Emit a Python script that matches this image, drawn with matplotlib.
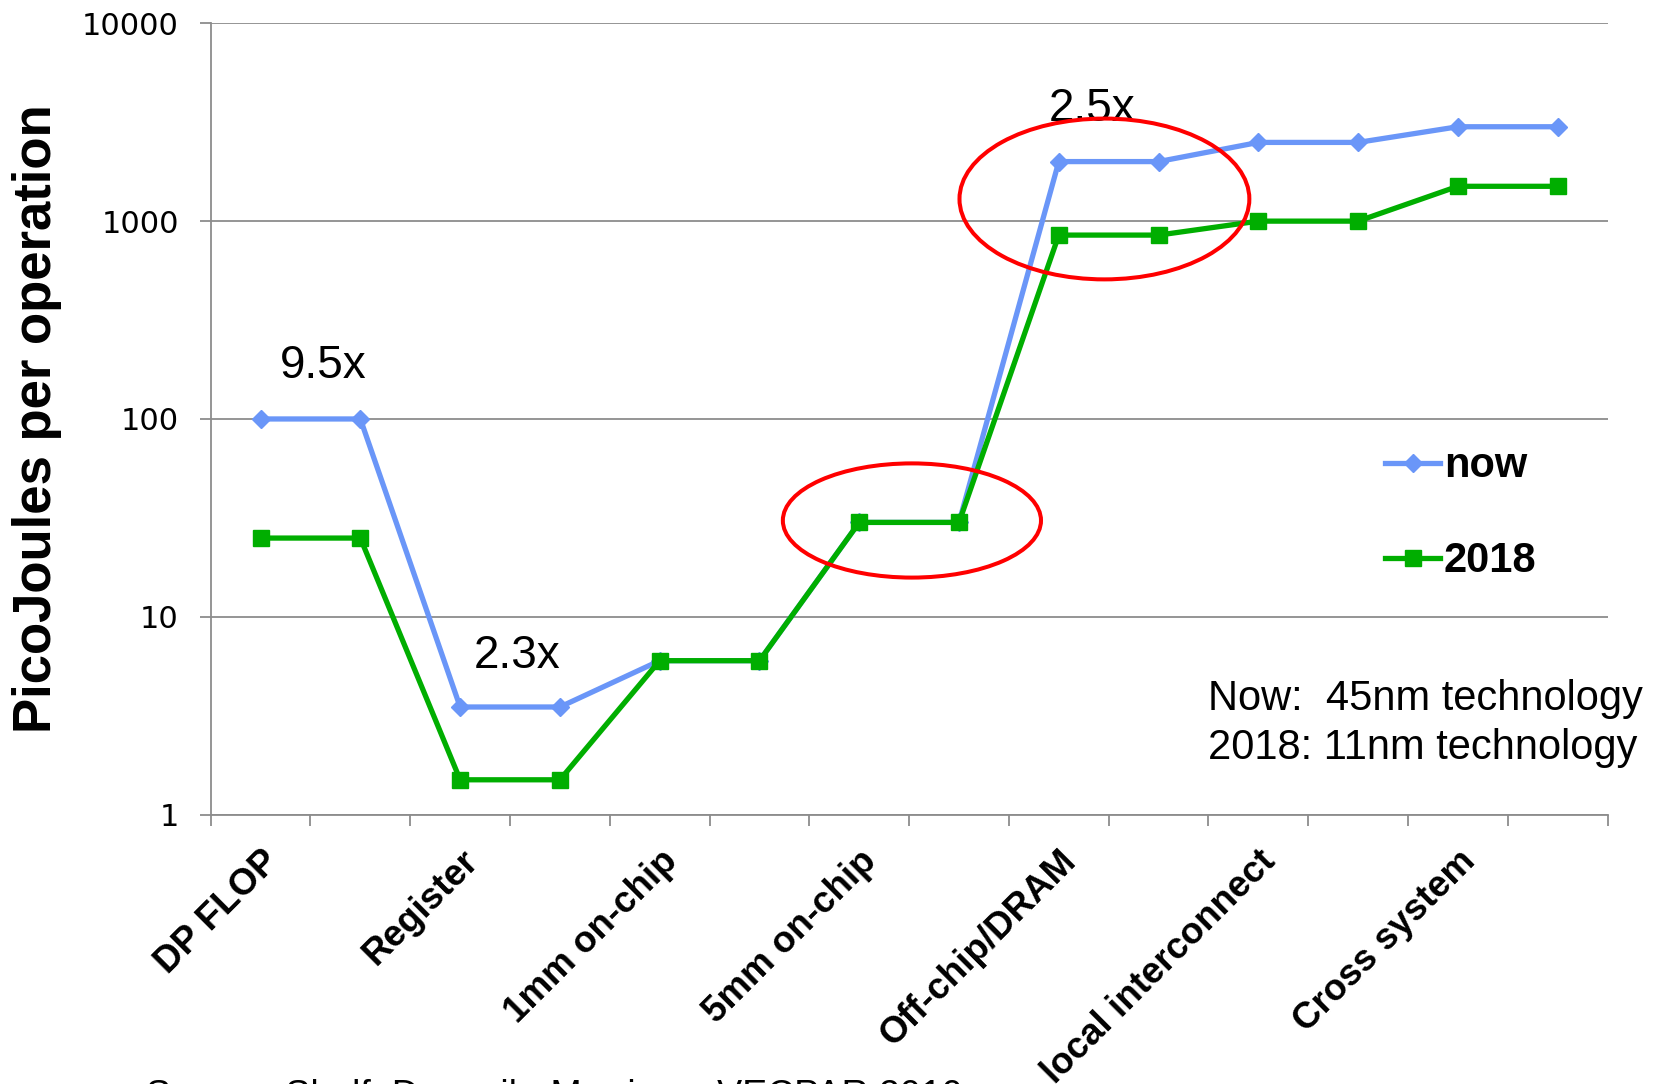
import numpy as np
import matplotlib
matplotlib.use("Agg")
import matplotlib.pyplot as plt
from matplotlib.patches import Ellipse

plt.rcParams['font.family'] = ['Liberation Sans', 'DejaVu Sans']

# data: two points per category
categories = ['DP FLOP', 'Register', '1mm on-chip', '5mm on-chip',
              'Off-chip/DRAM', 'local interconnect', 'Cross system']
now_pj = [100, 100, 3.5, 3.5, 6, 6, 30, 30, 2000, 2000, 2500, 2500, 3000, 3000]
y2018_pj = [25, 25, 1.5, 1.5, 6, 6, 30, 30, 850, 850, 1000, 1000, 1500, 1500]
ratio_labels = ['9.5x', '2.3x', '2.5x']
ratio_pos = [(0.63, 185), (2.57, 6.3), (8.33, 3700)]
yticks = [1, 10, 100, 1000, 10000]

BLUE = '#6A96F8'
GREEN = '#00AE00'
GRAY = '#8C8C8C'

fig = plt.figure(figsize=(16.59, 10.84), dpi=100)
ax = fig.add_axes([0.127, 0.2485, 0.842, 0.730])

x = np.arange(len(now_pj))
ax.plot(x, now_pj, color=BLUE, lw=3.8, marker='D', ms=9.5, label='now', zorder=3)
ax.plot(x, y2018_pj, color=GREEN, lw=3.8, marker='s', ms=11, label='2018', zorder=4)

ax.set_yscale('log')
ax.set_ylim(1, 10000)
ax.set_xlim(-0.5, len(now_pj) - 0.5)
ax.set_yticks(yticks)
ax.set_yticklabels([str(v) for v in yticks], fontsize=22, family='DejaVu Sans')
ax.yaxis.set_minor_locator(matplotlib.ticker.NullLocator())
ax.grid(axis='y', color=GRAY, lw=1.3)
ax.set_axisbelow(True)

# category labels every other point, ticks at the boundaries
ax.set_xticks(np.arange(0, len(now_pj), 2))
ax.set_xticklabels(categories, fontsize=26.5, fontweight='bold', rotation=45,
                   ha='right', va='top', rotation_mode='anchor')
ax.set_xticks(np.arange(-0.5, len(now_pj), 1), minor=True)
ax.tick_params(axis='x', which='major', length=0, pad=21)
ax.tick_params(axis='x', which='minor', length=8, width=1.3, color=GRAY)
ax.tick_params(axis='y', length=8, width=1.3, color=GRAY, pad=15)

for s in ['top', 'right']:
    ax.spines[s].set_visible(False)
for s in ['left', 'bottom']:
    ax.spines[s].set_color(GRAY)
    ax.spines[s].set_linewidth(1.3)

# ratio annotations
for txt, (px, py) in zip(ratio_labels, ratio_pos):
    ax.text(px, py, txt, fontsize=33, ha='center', va='center', zorder=5)

# red ellipses
ax.add_patch(Ellipse((0.502, 0.3717), 0.1848, 0.1443, transform=ax.transAxes,
                     fill=False, ec='#FF0000', lw=2.9, zorder=6, clip_on=False))
ax.add_patch(Ellipse((0.6398, 0.778), 0.2075, 0.2032, transform=ax.transAxes,
                     fill=False, ec='#FF0000', lw=2.9, zorder=6, clip_on=False))

leg = ax.legend(loc='center left', bbox_to_anchor=(0.841, 0.38), frameon=False,
                prop={'size': 30, 'weight': 'bold'}, handlelength=1.3,
                handletextpad=0.1, labelspacing=1.32, borderpad=0,
                borderaxespad=0, numpoints=1)

fig.text(0.728, 0.3324, 'Now:  45nm technology\n2018: 11nm technology',
         fontsize=30, ha='left', va='center', linespacing=1.3)

fig.text(0.0223, 0.614, 'PicoJoules per operation', fontsize=38,
         fontweight='bold', rotation=90, ha='center', va='center')

# source line, cut off by the bottom edge in the original
fig.text(0.088, -0.021, 'Source: Shalf, Dosanjh, Morrison, VECPAR 2010',
         fontsize=27, ha='left', va='baseline')

fig.savefig('out.png', dpi=100)
